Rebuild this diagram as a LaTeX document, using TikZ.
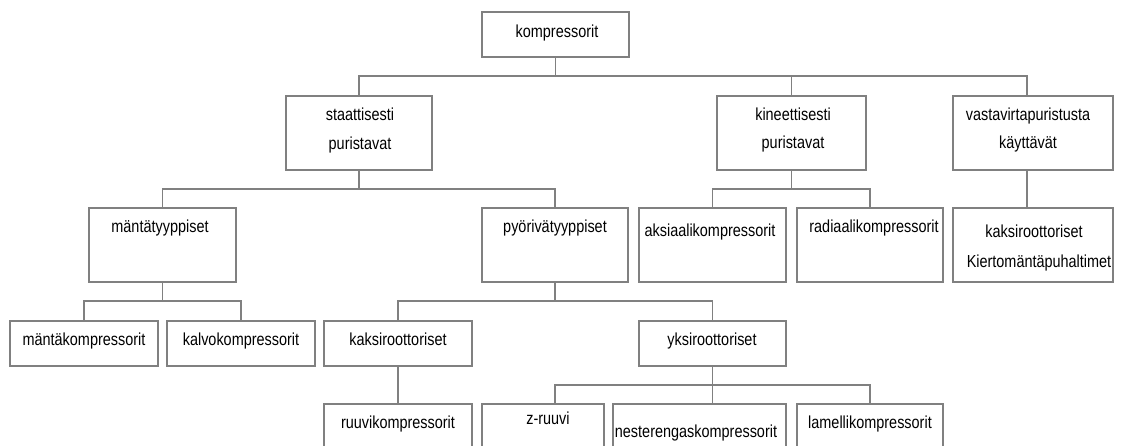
\documentclass[tikz,border=0pt]{standalone}
\usepackage{fontspec}
\newfontfamily\lab[FakeStretch=0.83]{Liberation Sans}
\definecolor{ln}{RGB}{128,128,128}
\tikzset{
  box/.style={draw=ln, line width=1.6pt, rectangle, inner sep=0pt},
  conn/.style={draw=ln, line width=1.1pt},
  lbl/.style={font=\lab\fontsize{17.4}{29}\selectfont, anchor=base, inner sep=0pt},
}
\begin{document}
\begin{tikzpicture}[x=1pt,y=-1pt]
\useasboundingbox (0,0) rectangle (1122,445);
\fill[white] (0,0) rectangle (1122,445);
\clip (0,0) rectangle (1122,445);
% boxes
\node[box, minimum width=147pt, minimum height=45pt] (root) at (555.5,34.5) {};
\node[box, minimum width=146pt, minimum height=74pt] (staat) at (359,133) {};
\node[box, minimum width=149pt, minimum height=74pt] (kin) at (791.5,133) {};
\node[box, minimum width=160pt, minimum height=74pt] (vasta) at (1033,133) {};
\node[box, minimum width=147pt, minimum height=74pt] (mtyyp) at (162.5,245) {};
\node[box, minimum width=146pt, minimum height=74pt] (pyor) at (555,245) {};
\node[box, minimum width=147pt, minimum height=74pt] (aksi) at (712.5,245) {};
\node[box, minimum width=146pt, minimum height=74pt] (radi) at (870,245) {};
\node[box, minimum width=160pt, minimum height=74pt] (kier) at (1033,245) {};
\node[box, minimum width=148pt, minimum height=45pt] (mkomp) at (84,343.5) {};
\node[box, minimum width=148pt, minimum height=45pt] (kalvo) at (241,343.5) {};
\node[box, minimum width=148pt, minimum height=45pt] (kaksi) at (398,343.5) {};
\node[box, minimum width=147pt, minimum height=45pt] (yksi) at (712.5,343.5) {};
\node[box, minimum width=148pt, minimum height=66pt] (ruuvi) at (398,437) {};
\node[box, minimum width=122pt, minimum height=66pt] (zruuvi) at (543,437) {};
\node[box, minimum width=173pt, minimum height=66pt] (nest) at (699.5,437) {};
\node[box, minimum width=146pt, minimum height=66pt] (lame) at (870,437) {};
% bus levels
\coordinate (b1) at (0,76);
\coordinate (b2) at (0,189);
\coordinate (b3) at (0,301);
\coordinate (b4) at (0,385);
% connectors
\draw[conn] (root.south) -- (root.south |- b1);
\draw[conn] (staat.north) |- ([xshift=-6pt]vasta.north |- b1) -- ([xshift=-6pt]vasta.north);
\draw[conn] (kin.north) -- (kin.north |- b1);
\draw[conn] (staat.south) -- (staat.south |- b2);
\draw[conn] (mtyyp.north) |- (pyor.north |- b2) -- (pyor.north);
\draw[conn] (kin.south) -- (kin.south |- b2);
\draw[conn] (aksi.north) |- (radi.north |- b2) -- (radi.north);
\draw[conn] ([xshift=-6pt]vasta.south) -- ([xshift=-6pt]kier.north);
\draw[conn] (mtyyp.south) -- (mtyyp.south |- b3);
\draw[conn] (mkomp.north) |- (kalvo.north |- b3) -- (kalvo.north);
\draw[conn] (pyor.south) -- (pyor.south |- b3);
\draw[conn] (kaksi.north) |- (yksi.north |- b3) -- (yksi.north);
\draw[conn] (kaksi.south) -- (ruuvi.north);
\draw[conn] (yksi.south) -- (yksi.south |- nest.north);
\draw[conn] ([xshift=12pt]zruuvi.north) |- (lame.north |- b4) -- (lame.north);
% labels
\node[lbl] (t0) at (557,37) {kompressorit};
\node[lbl] (t1a) at (360,120) {staattisesti};
\node[lbl] (t1b) at (360,149) {puristavat};
\node[lbl] (t2a) at (793,120) {kineettisesti};
\node[lbl] (t2b) at (793,148) {puristavat};
\node[lbl] (t3a) at (1028,120) {vastavirtapuristusta};
\node[lbl] (t3b) at (1028,148) {käyttävät};
\node[lbl] (t4) at (160,232) {mäntätyyppiset};
\node[lbl] (t5) at (555,232) {pyörivätyyppiset};
\node[lbl] (t6) at (710,236) {aksiaalikompressorit};
\node[lbl] (t7) at (874,232) {radiaalikompressorit};
\node[lbl] (t8a) at (1034,237) {kaksiroottoriset};
\node[lbl] (t8b) at (1039,267) {Kiertomäntäpuhaltimet};
\node[lbl] (t9) at (84,345) {mäntäkompressorit};
\node[lbl] (t10) at (241,345) {kalvokompressorit};
\node[lbl] (t11) at (398,345) {kaksiroottoriset};
\node[lbl] (t12) at (712,345) {yksiroottoriset};
\node[lbl] (t13) at (398,428) {ruuvikompressorit};
\node[lbl] (t14) at (548,424) {z-ruuvi};
\node[lbl] (t15) at (696,437) {nesterengaskompressorit};
\node[lbl] (t16) at (870,428) {lamellikompressorit};
\end{tikzpicture}
\end{document}
